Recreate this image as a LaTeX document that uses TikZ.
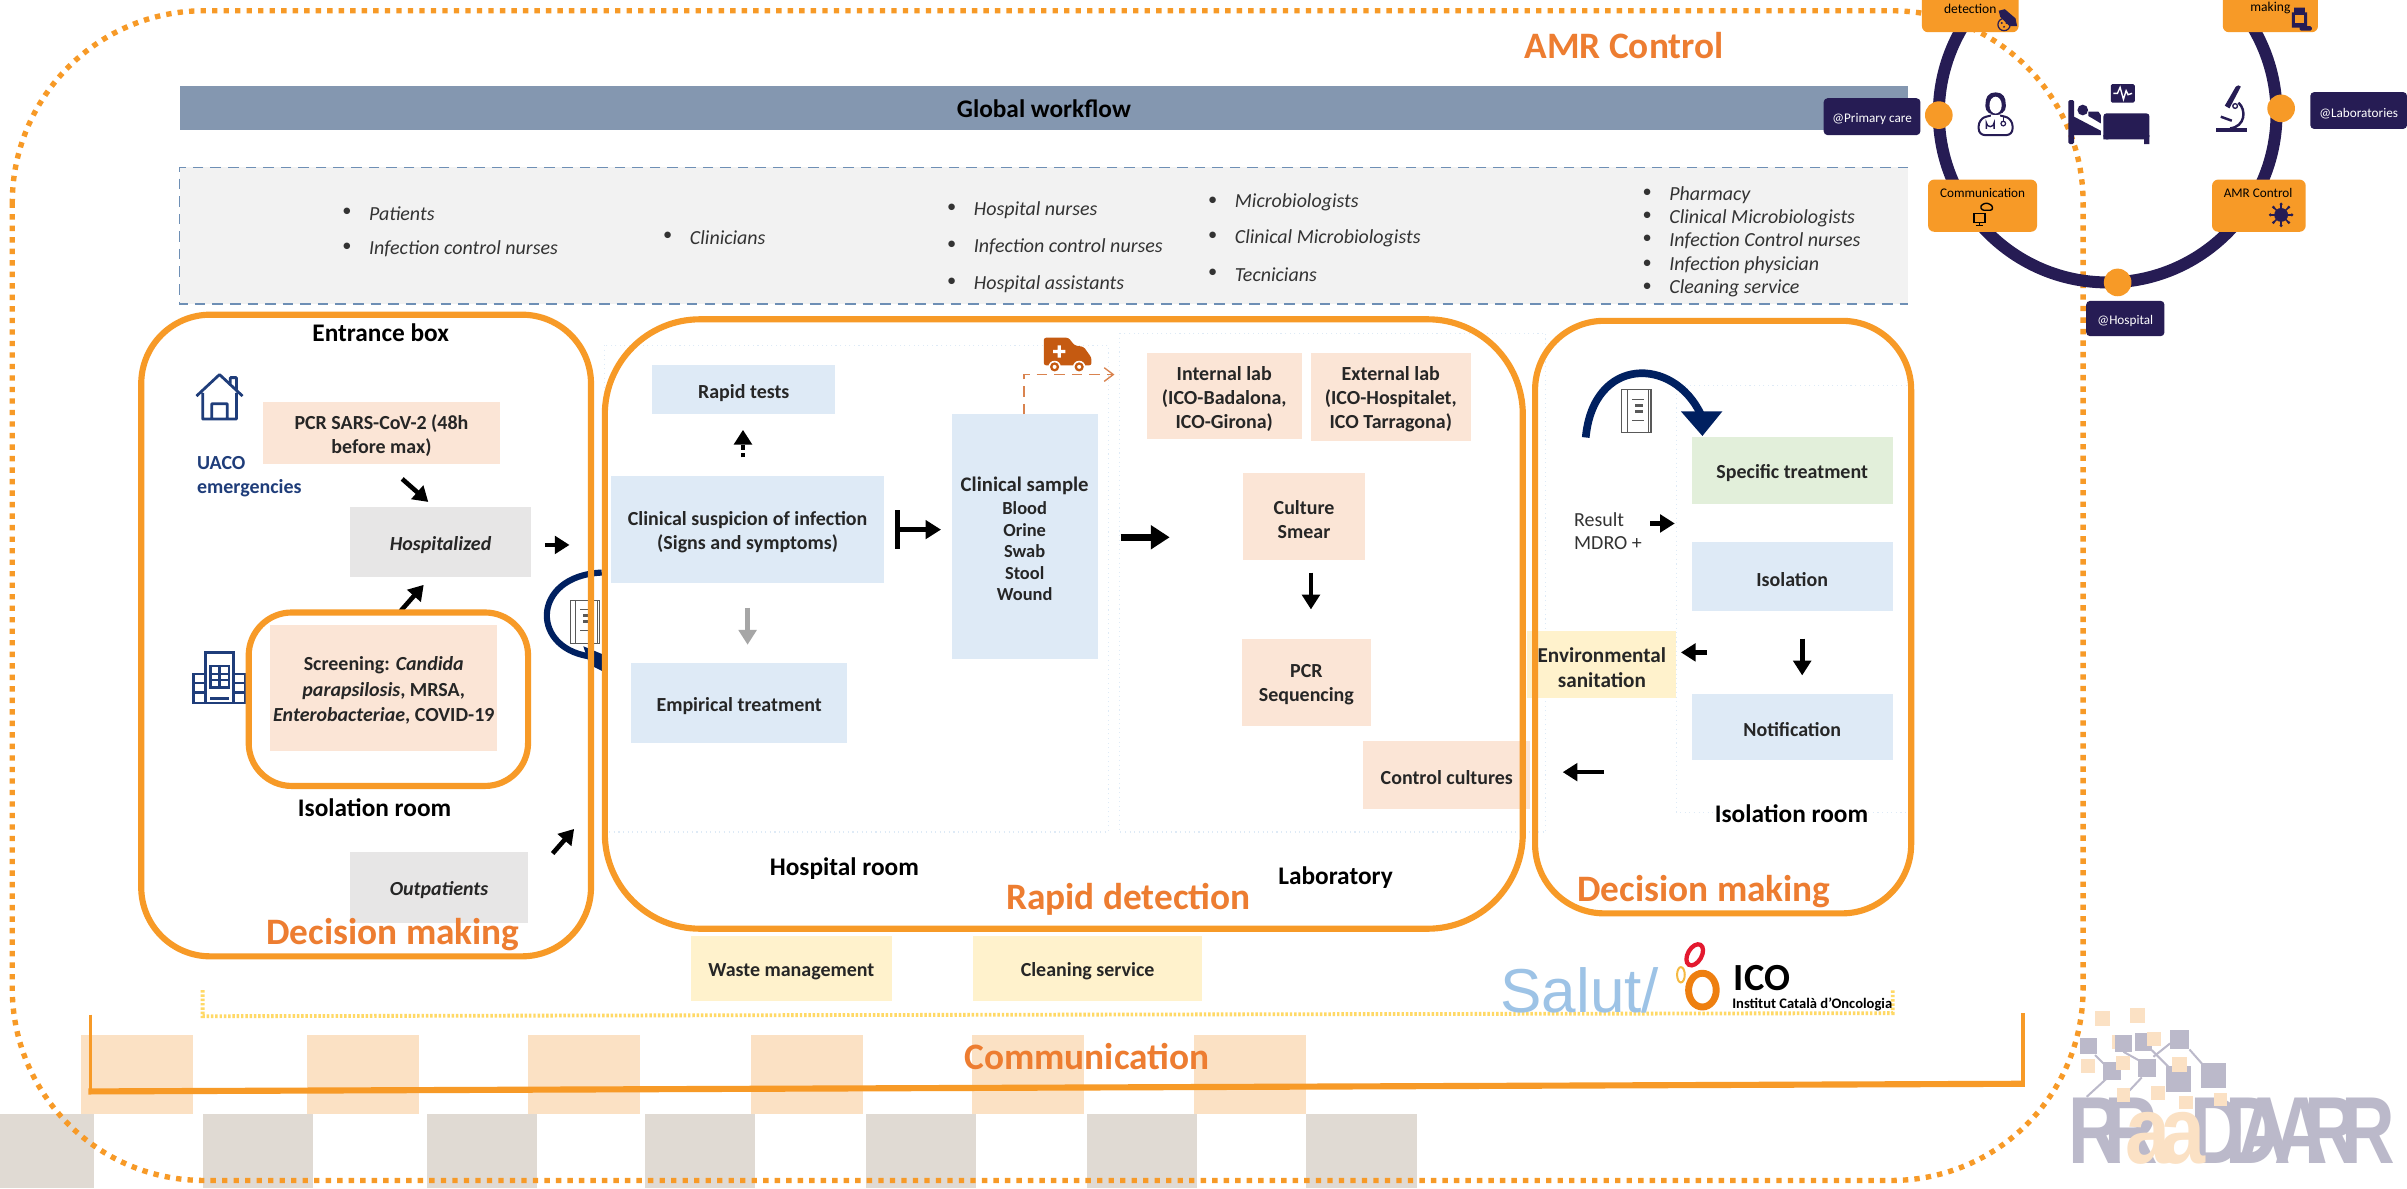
\documentclass[tikz,border=0pt]{standalone}
\usepackage{fontspec}
\setmainfont{Carlito}
\newfontfamily\lib{Liberation Sans}
\usetikzlibrary{arrows.meta,calc}
\definecolor{org}{HTML}{F79A27}
\definecolor{orgtxt}{HTML}{ED7D31}
\definecolor{peach}{HTML}{FBE5D6}
\definecolor{lblue}{HTML}{DEEAF6}
\definecolor{lgrey}{HTML}{E7E6E6}
\definecolor{lyel}{HTML}{FFF2CC}
\definecolor{lgreen}{HTML}{E2EFDA}
\definecolor{navy}{HTML}{261C54}
\definecolor{dblue}{HTML}{002060}
\definecolor{hblue}{HTML}{1F3D7A}
\definecolor{sq}{HTML}{FBE1C4}
\definecolor{gsq}{HTML}{E0DAD3}
\definecolor{logo}{HTML}{BBB9CA}
\definecolor{barc}{HTML}{8497B0}
\definecolor{pdash}{HTML}{6E8FB5}
\definecolor{dashor}{HTML}{D9834F}
\definecolor{amb}{HTML}{C55A11}
\definecolor{ylw}{HTML}{FFD966}
\definecolor{sal}{HTML}{9DC3E6}
\definecolor{iorg}{HTML}{EE7F10}
\definecolor{iyel}{HTML}{F5B942}
\definecolor{ired}{HTML}{E3192F}
\newcommand\fsz[1]{\fontsize{\fpeval{#1*0.43675}}{\fpeval{#1*0.43675*1.2}}\selectfont}
\newdimen\uu \uu=0.43675pt
% name x1 y1 x2 y2 style text : the box, then its text a little below the middle
\newcommand\bx[7]{\node[#6,inner sep=0pt,minimum width={(#4-#2)*0.43675pt},minimum height={(#5-#3)*0.43675pt}] (#1) at ({(#2+#4)/2},{(#3+#5)/2}) {};%
\if\relax\detokenize{#7}\relax\else\node[#6,fill=none,inner sep=0pt] (#1t) at ({(#2+#4)/2},{(#3+#5)/2+1.8}) {#7};\fi}
% name x1 y1 x2 y2 style
\newcommand\conn[6]{\coordinate (#1a) at (#2,#3);\coordinate (#1b) at (#4,#5);\draw[#6] (#1a) -- (#1b);}
\newcommand\bookicon[2]{\begin{scope}[shift={(#1,#2)},gray!70!black,line width=0.7\uu]
\draw[fill=white] (-9.5,-14) rectangle (9.5,14);\draw (-6,-14) -- (-6,14);\draw (8,-14) -- (8,14);
\draw (-3,-8) -- (5,-8) (-3,6) -- (5,6);\fill (-1,-5) rectangle (4,-3);\fill (-1,-1) rectangle (4,1);
\end{scope}}
\tikzset{
 blk/.style={draw=black,line width=3\uu,-{Triangle[length=4.2pt,width=5pt]}},
 round box/.style={draw=org,line width=4\uu},
 frame/.style={draw=lblue,line width=0.7\uu,densely dotted},
 tb/.style={font=\bfseries\fsz{13},align=center,text=black!85},
 lab/.style={font=\bfseries\fsz{16.5},text=black},
 big/.style={font=\bfseries\fsz{24.3},text=orgtxt},
 role/.style={font=\itshape\fsz{13},anchor=west,text=black!80},
 bul/.style={font=\fsz{12},text=black!80},
 ring box/.style={fill=org,rounded corners=4\uu},
 at box/.style={fill=navy,rounded corners=2.5\uu,text=white,font=\fsz{8.6}},
 logol/.style={font=\lib\bfseries\fsz{62},text=logo,inner sep=0pt,anchor=base west},
 logoa/.style={font=\lib\bfseries\fsz{62},text=sq,inner sep=0pt,anchor=base west},
}
\begin{document}
\begin{tikzpicture}[x=0.43675pt,y=-0.43675pt]
\path[use as bounding box,clip] (0,0) rectangle (1568,774);
\fill[white] (0,0) rectangle (1568,774);
% decorative squares
\foreach \i/\x in {1/53,2/200,3/344,4/489,5/633,6/778}{\bx{ps\i}{\x}{674}{\x+73}{726}{fill=sq}{}}
\foreach \i/\x in {1/-11,2/132,3/278,4/420,5/564,6/708,7/851}{\bx{gs\i}{\x}{726}{\x+72}{774}{fill=gsq}{}}
% outer dotted frame
\draw[org,line width=3.5\uu,dash pattern=on 3.5\uu off 4\uu,rounded corners=125\uu] (8,7) rectangle (1357,769);
% global bar and panel
\node[fill=barc,font=\bfseries\fsz{16.5},text=black,inner sep=0pt,minimum width=1126\uu,minimum height=29\uu] (bar) at (680,70.5) {Global workflow};
\fill[fill=black!5] (117,109) rectangle (1243,198);
\draw[draw=pdash,line width=0.8\uu,densely dashed] (1243,109) -- (117,109) -- (117,198) -- (1243,198);
% panel text
\foreach \i/\x/\y/\t in {a/240/138/Patients,b/240/161/Infection control nurses,c/449/154/Clinicians,d/634/136/Hospital nurses,e/634/160/Infection control nurses,f/634/184/Hospital assistants,g/804/131/Microbiologists,h/804/154/Clinical Microbiologists,i/804/178/Tecnicians,j/1087/126/Pharmacy,k/1087/141/Clinical Microbiologists,l/1087/156/Infection Control nurses,m/1087/172/Infection physician,n/1087/187/Cleaning service}{
 \node[role,inner sep=0pt] (r\i) at (\x,\y+1) {\t};
 \node[bul,inner sep=0pt] (b\i) at (\x-14,\y) {\textbullet};
}
% thin frames
\draw[frame] (394,225) rectangle (722,542);
\draw[frame] (729,217) rectangle (1007,542);
\draw[frame] (1245,251) -- (1092,251) -- (1092,529) -- (1245,529);
% left arc + book
\draw[dblue,line width=4\uu] (392,373) .. controls (345,375) and (345,425) .. (388,428);
\fill[dblue] (380,421) -- (392,426) -- (392,437) -- (384,433) -- cycle;
\bookicon{381}{405}
% right arc + book
\draw[dblue,line width=5\uu] (1033,285) .. controls (1038,232) and (1090,232) .. (1108,270);
\fill[dblue] (1095,268) -- (1122,268) -- (1109,284) -- cycle;
\bookicon{1066}{268}
% entrance
\bx{pcr}{171}{262}{326}{302}{fill=peach,tb}{PCR SARS-CoV-2 (48h\\before max)}
\bx{hosp}{228}{330}{346}{376}{fill=lgrey,tb,font=\bfseries\itshape\fsz{13}}{Hospitalized}
\bx{scr}{176}{407}{324}{489}{fill=peach,tb}{Screening: \textit{Candida}\\[1\uu]\textit{parapsilosis}, MRSA,\\[1\uu]\textit{Enterobacteriae}, COVID-19}
\bx{outp}{228}{555}{344}{601}{fill=lgrey,tb,font=\bfseries\itshape\fsz{13}}{Outpatients}
\node[lab] (ent) at (248,217) {Entrance box};
\node[lab] (isol) at (244,526) {Isolation room};
\node[font=\bfseries\fsz{13},text=hblue,align=left,anchor=north west,inner sep=0pt] (uaco) at (128,297) {UACO\\emergencies};
% house
\begin{scope}[shift={(143,258)},hblue,line width=1.8\uu,line join=round]
\draw (-15,0) -- (0,-14) -- (15,0) (-11,-2) -- (-11,15) -- (11,15) -- (11,-2) (-5,15) -- (-5,5) -- (5,5) -- (5,15) (7,-8) -- (7,-12) -- (11,-12) -- (11,-4);
\end{scope}
% building
\begin{scope}[shift={(143,442)},hblue,line width=1.6\uu]
\draw (-9,-17) rectangle (9,16) (-17,-3) rectangle (-9,16) (9,-3) rectangle (17,16);
\draw (-6,-8) rectangle (6,6) (-6,-3) -- (6,-3) (-6,1) -- (6,1) (0,-8) -- (0,6) (-17,3) -- (-9,3) (-17,9) -- (-9,9) (9,3) -- (17,3) (9,9) -- (17,9) (-6,13) -- (6,13);
\end{scope}
\conn{a1}{262}{312}{279}{327}{blk}
\conn{a2}{261}{398}{276}{381}{blk}
\conn{a3}{355}{355}{371}{355}{blk}
\conn{a4}{360}{556}{374}{540}{blk}
% hospital
\bx{rapid}{425}{238}{544}{270}{fill=lblue,tb}{Rapid tests}
\bx{susp}{398}{310}{576}{380}{fill=lblue,tb}{Clinical suspicion of infection\\(Signs and symptoms)}
\bx{emp}{411}{432}{552}{484}{fill=lblue,tb}{Empirical treatment}
\bx{samp}{620}{270}{715}{429}{fill=lblue,tb}{\fsz{13.5}Clinical sample\\[-1\uu]\fsz{12}Blood\\[-1.5\uu]\fsz{12}Orine\\[-1.5\uu]\fsz{12}Swab\\[-1.5\uu]\fsz{12}Stool\\[-1.5\uu]\fsz{12}Wound}
\conn{a5}{484}{298}{484}{280}{blk,dash pattern=on 3\uu off 2\uu}
\conn{a6}{487}{396}{487}{420}{blk,draw=black!35}
\conn{a7}{583}{345}{613}{345}{draw=black,line width=3\uu,arrows={Bar[width=10.9pt,line width=1.5pt]-Triangle[length=4.4pt,width=5.2pt]}}
\coordinate (ds) at (667,270);\coordinate (de) at (726,244);
\draw[draw=dashor,line width=0.9\uu,densely dashed,-{Straight Barb[length=2.6pt,width=3.9pt]}] (ds) |- (de);
% ambulance
\begin{scope}[shift={(695,230)}]
\fill[amb,rounded corners=1.5\uu] (-15,-10) -- (1,-10) -- (5,-5) -- (11,-4) -- (16,3) -- (16,8) -- (-15,8) -- cycle;
\fill[white] (-9,-2) rectangle (-1,0) (-6,-5) rectangle (-4,3);
\foreach \x in {-8,8}{\fill[white] (\x,9) circle (4); \fill[amb] (\x,9) circle (3);\fill[white] (\x,9) circle (1.3);}
\end{scope}
% lab
\bx{inlab}{747}{230}{848}{286}{fill=peach,tb}{Internal lab\\(ICO-Badalona,\\ICO-Girona)}
\bx{exlab}{854}{230}{958}{287}{fill=peach,tb}{External lab\\(ICO-Hospitalet,\\ICO Tarragona)}
\bx{cult}{810}{308}{889}{365}{fill=peach,tb}{Culture\\Smear}
\bx{seq}{809}{416}{893}{473}{fill=peach,tb}{PCR\\Sequencing}
\bx{ctrl}{888}{483}{997}{527}{fill=peach,tb}{Control cultures}
\conn{a8}{730}{350}{762}{350}{draw=black,line width=4.5\uu,-{Triangle[length=5.4pt,width=6.6pt]}}
\conn{a9}{854}{373}{854}{397}{blk}
% right
\bx{spec}{1102}{285}{1233}{328}{fill=lgreen,tb}{Specific treatment}
\bx{iso}{1102}{353}{1233}{398}{fill=lblue,tb}{Isolation}
\bx{note}{1102}{452}{1233}{495}{fill=lblue,tb}{Notification}
\bx{env}{995}{411}{1092}{455}{fill=lyel,tb,font=\bfseries\fsz{13.8}}{Environmental\\sanitation}
\node[font=\fsz{13},align=left,anchor=west,inner sep=0pt,text=black!80] (res) at (1025,346) {Result\\MDRO +};
\conn{a10}{1075}{341}{1091}{341}{blk}
\conn{a11}{1112}{425}{1095}{425}{blk}
\conn{a12}{1174}{416}{1174}{440}{blk}
\conn{a13}{1045}{503}{1018}{503}{blk}
\node[lab] (isor) at (1167,530) {Isolation room};
\node[lab] (hr) at (550,566) {Hospital room};
\node[lab] (lb) at (870,572) {Laboratory};
% waste
\bx{waste}{450}{610}{581}{652}{fill=lyel,tb}{Waste management}
\bx{clean}{634}{610}{783}{652}{fill=lyel,tb}{Cleaning service}
\draw[draw=ylw,line width=2.5\uu,dash pattern=on 1.6\uu off 1.2\uu] (132,645) -- (132,662) -- (1233,660) -- (1233,645);
% rounded frames
\draw[round box,rounded corners=45\uu] (92,205) rectangle (385,623);
\draw[round box,rounded corners=62\uu] (394,208) rectangle (992,605);
\draw[round box,rounded corners=45\uu] (1000,209) rectangle (1245,595);
\draw[round box,rounded corners=28\uu] (162,399) rectangle (344,512);
\node[big] (d1) at (256,609) {Decision making};
\node[big] (d2) at (735,586) {Rapid detection};
\node[big] (d3) at (1110,581) {Decision making};
\node[big] (amr) at (1058,30) {AMR Control};
\node[big] (comm) at (708,688) {Communication};
% communication bracket
\draw[org,line width=2.5\uu] (59,661) -- (59,711) (1318,660) -- (1318,706);
\draw[org,line width=4\uu] (57.5,711) -- (1319,706);
% logos
\node[font=\lib\fsz{40.4},text=sal,inner sep=0pt,anchor=west] (salut) at (977,645) {Salut/};
\draw[draw=iorg,line width=4.5\uu] (1109,645) ellipse (9 and 11);
\draw[draw=iyel,line width=1.3\uu] (1095,635) ellipse (2.5 and 5);
\draw[draw=ired,line width=2.8\uu,rotate around={-30:(1104,622)}] (1104,622) ellipse (4.5 and 7.5);
\node[font=\bfseries\fsz{25},inner sep=0pt,anchor=west] (ico) at (1129,637) {ICO};
\node[font=\bfseries\fsz{9.5},inner sep=0pt,anchor=west] (icot) at (1128,654) {Institut Català d'Oncologia};
% RADAR logo (coordinates of a 3x crop of the logo)
\begin{scope}[shift={(1348.5,651.5)},scale=0.2172]
\fill[sq] (125,105) rectangle ++(20,42);
\foreach \a/\b/\c/\d in {50/290/110/235,75/165/105/195,160/155/205/180,215/232/170/280,245/150/295/200,300/130/250/170,358/148/395/190}{\draw[logo,line width=1.3\uu] (\a,\b) -- (\c,\d);}
\foreach \x/\y/\w/\h in {30/115/50/48,98/187/54/54,135/105/50/50,195/98/52/56,203/178/54/54,288/197/75/78,300/90/58/58,392/190/76/75}{\fill[logo] (\x,\y) rectangle ++(\w,\h);}
\foreach \i/\x/\t in {1/-8/R,2/100/R,3/360/D,4/465/D,5/500/A,6/610/A,7/700/R,8/812/R}{\node[logol] (lg\i) at (\x,490) {\scalebox{0.78}[1]{\t}};}
\foreach \i/\x in {1/165,2/270}{\node[logoa] (la\i) at (\x,490) {\scalebox{0.85}[1]{a}};}
\foreach \x/\y/\s in {75/33/45,180/24/44,230/97/42,32/177/43,137/168/43,305/170/46,140/265/40,243/257/42,328/288/40,432/278/40}{\fill[sq] (\x,\y) rectangle ++(\s,\s);}
\end{scope}
% ring
\draw[navy,line width=7.8\uu] (1373,74) circle (110);
\fill[org] (1263,75) circle (9);
\fill[org] (1486,70.6) circle (9);
\fill[org] (1379.5,184) circle (9);
\bx{atp}{1188}{64}{1251}{88}{at box}{@Primary care}
\bx{atl}{1505}{60}{1568}{84}{at box}{@Laboratories}
\bx{ath}{1359}{196}{1410}{219}{at box}{@Hospital}
\fill[ring box] (1252,-20) rectangle (1315,21);
\fill[ring box] (1448,-20) rectangle (1510,21);
\node[font=\fsz{8.8},inner sep=0pt] (rd) at (1283.5,5.5) {detection};
\node[font=\fsz{8.8},inner sep=0pt] (dm) at (1479,5.5) {making};
\bx{cm}{1256}{117}{1327}{151}{ring box}{}
\bx{ac}{1441}{117}{1502}{151}{ring box}{}
\node[font=\fsz{8.6},inner sep=0pt] (cmt) at (1291.5,126) {Communication};
\node[font=\fsz{8.6},inner sep=0pt] (act) at (1471,126) {AMR Control};
% virus
\begin{scope}[shift={(1486,140)}]
\fill[navy] (0,0) circle (4.5);
\foreach \a in {0,45,...,315}{\draw[navy,line width=1\uu] (0,0) -- (\a:6.5);\fill[navy] (\a:7) circle (1.1);}
\end{scope}
% comm icon
\begin{scope}[shift={(1291,141)},line width=0.9\uu]
\draw (-5,-2) rectangle (2,4) (-1.5,4) -- (-1.5,6) (-4,6) -- (1,6);
\draw[rounded corners=1.5\uu] (0,-4) -- (-1,-7) -- (3,-9) -- (7,-7) -- (7,-4) -- cycle;
\end{scope}
% hand icon
\begin{scope}[shift={(1307,13)}]
\fill[navy] (-5,-6) -- (-1,-7) -- (6,-1) -- (7,4) -- (2,4) -- (-4,-2) -- cycle;
\draw[navy,line width=0.8\uu] (-1.5,3) circle (4);
\fill[navy] (-3,2) circle (0.7) (0,2) circle (0.7) (-1.5,4.5) circle (0.7);
\end{scope}
% bottle
\begin{scope}[shift={(1498,11)}]
\fill[navy] (-3.5,-6) rectangle (3.5,-3) (-5,-3) rectangle (5,7);
\fill[org] (-3,-1) rectangle (3,4);
\fill[navy,rounded corners=1\uu] (0,6) rectangle (8,9);
\end{scope}
% nurse
\begin{scope}[shift={(1300,74)}]
\draw[navy,line width=1.3\uu,rounded corners=4\uu,fill=white] (-11,14) -- (-11,4) -- (-4,1) -- (4,1) -- (11,4) -- (11,14) -- cycle;
\fill[navy,rounded corners=3\uu] (-7,-2) -- (-6,-12) -- (0,-14.5) -- (6,-12) -- (7,-2) -- (2,1) -- (-2,1) -- cycle;
\fill[white] (0,-5.5) ellipse (4 and 5.5);
\fill[white] (-3,1) rectangle (3,3);
\draw[navy,line width=0.9\uu] (-6,10) -- (-6,6) arc (180:0:2.5) -- (-1,10);
\draw[navy,line width=0.8\uu] (5,2) -- (5,5);
\draw[navy,line width=0.8\uu,fill=white] (5,6.5) circle (1.5);
\end{scope}
% bed (coordinates of a 3x crop)
\begin{scope}[shift={(1342,39.1)},scale=0.2172]
\fill[navy,rounded corners=1\uu] (152,72) rectangle (224,128);
\draw[white,line width=0.9\uu] (160,100) -- (172,100) -- (180,82) -- (190,118) -- (198,92) -- (204,104) -- (216,100);
\fill[navy,rounded corners=1\uu] (25,120) rectangle (42,252);
\fill[navy] (68,150) circle (16);
\fill[navy] (85,155) -- (115,155) -- (122,165) -- (122,190) -- (85,168) -- cycle;
\fill[navy] (42,170) -- (122,212) -- (122,225) -- (42,225) -- cycle;
\fill[navy,rounded corners=2\uu] (130,160) rectangle (268,238);
\fill[navy] (252,225) rectangle (268,252) (130,225) rectangle (145,238);
% microscope
\fill[navy] (468,203) rectangle (562,215);
\fill[navy] (535,76) -- (542,80) -- (508,145) -- (494,137) -- (527,80) -- cycle;
\draw[navy,line width=1.6\uu] (510,205) .. controls (555,200) and (560,150) .. (535,128);
\draw[navy,line width=1.6\uu] (482,170) -- (515,182);
\draw[navy,line width=0.9\uu,fill=white] (525,138) circle (7);
\end{scope}
\end{tikzpicture}
\end{document}
